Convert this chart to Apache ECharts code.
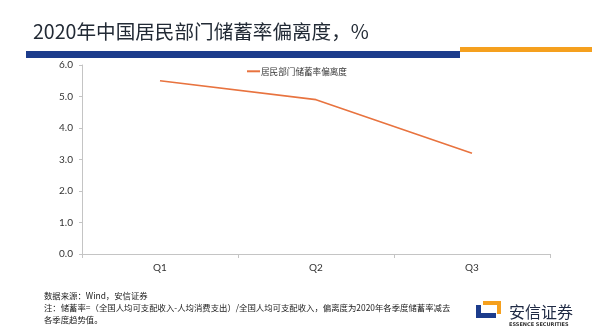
<!DOCTYPE html>
<html>
<head>
<meta charset="utf-8">
<style>
  html, body { margin: 0; padding: 0; background: #ffffff; }
  #chart { width: 592px; height: 332px; }
</style>
<script src="https://cdn.jsdelivr.net/npm/echarts@6/dist/echarts.min.js"></script>
</head>
<body>
<div id="chart"></div>
<script>
// Quarterly deviation of the household saving rate, 2020
const quarters = ['Q1', 'Q2', 'Q3'];
const deviation = [5.5, 4.9, 3.2];
const seriesName = '居民部门储蓄率偏离度';
const titleText = '2020年中国居民部门储蓄率偏离度，%';
const sourceLines = [
  '数据来源：Wind，安信证券',
  '注：储蓄率=（全国人均可支配收入-人均消费支出）/全国人均可支配收入，偏离度为2020年各季度储蓄率减去',
  '各季度趋势值。'
];

const cjk = '"Noto Sans CJK SC", "Noto Sans", sans-serif';
const chart = echarts.init(document.getElementById('chart'), null, { renderer: 'canvas' });

chart.setOption({
  animation: false,
  backgroundColor: '#ffffff',
  title: {
    text: titleText,
    left: 28,
    top: 17,
    textStyle: { fontFamily: cjk, fontSize: 19.6, fontWeight: 'normal', color: '#222a35' }
  },
  legend: {
    data: [seriesName],
    left: 242,
    top: 62,
    itemWidth: 13,
    itemHeight: 2,
    itemGap: 2,
    icon: 'rect',
    textStyle: { fontFamily: cjk, fontSize: 8.6, color: '#333333', padding: [0, 0, 0, -4] }
  },
  grid: { left: 82, right: 42, top: 65, bottom: 78, containLabel: false },
  xAxis: {
    type: 'category',
    data: quarters,
    boundaryGap: true,
    axisLine: { lineStyle: { color: '#c4c4c4', width: 1 } },
    axisTick: { show: true, length: 4, lineStyle: { color: '#c4c4c4' } },
    axisLabel: { fontFamily: 'Lato, sans-serif', fontSize: 10, color: '#333333', margin: 9 }
  },
  yAxis: {
    type: 'value',
    min: 0,
    max: 6,
    interval: 1,
    splitLine: { show: false },
    axisLine: { show: true, lineStyle: { color: '#c4c4c4', width: 1 } },
    axisTick: { show: true, length: 3, lineStyle: { color: '#c4c4c4' } },
    axisLabel: {
      fontFamily: 'Lato, sans-serif', fontSize: 10, color: '#333333', margin: 9,
      formatter: v => v.toFixed(1)
    }
  },
  series: [{
    name: seriesName,
    type: 'line',
    data: deviation,
    symbol: 'none',
    lineStyle: { color: '#e8733f', width: 1.6 },
    itemStyle: { color: '#e8733f' }
  }],
  graphic: [
    // header rule: navy band with orange tail
    { type: 'rect', shape: { x: 26, y: 51, width: 434, height: 7 }, style: { fill: '#1c3c8c' } },
    { type: 'rect', shape: { x: 460, y: 47, width: 132, height: 5 }, style: { fill: '#f5a01e' } },
    // source and note
    { type: 'text', x: 44, y: 292, style: { text: sourceLines[0], font: '8.4px ' + cjk, fill: '#222222' } },
    { type: 'text', x: 44, y: 304, style: { text: sourceLines[1], font: '8.4px ' + cjk, fill: '#222222' } },
    { type: 'text', x: 44, y: 316, style: { text: sourceLines[2], font: '8.4px ' + cjk, fill: '#222222' } },
    // brand mark
    { type: 'polygon', shape: { points: [[476, 305], [481, 305], [481, 313], [496, 313], [496, 318], [476, 318]] }, style: { fill: '#1c3c8c' } },
    { type: 'polygon', shape: { points: [[483, 301], [501, 301], [501, 314], [497, 314], [497, 305], [483, 305]] }, style: { fill: '#f5a01e' } },
    { type: 'text', x: 509, y: 304, style: { text: '安信证券', font: '16px ' + cjk, fill: '#1f2a44' } },
    { type: 'text', x: 509, y: 322, style: { text: 'ESSENCE SECURITIES', font: 'bold 5px "DejaVu Sans", sans-serif', fill: '#333333' } }
  ]
});
</script>
</body>
</html>
